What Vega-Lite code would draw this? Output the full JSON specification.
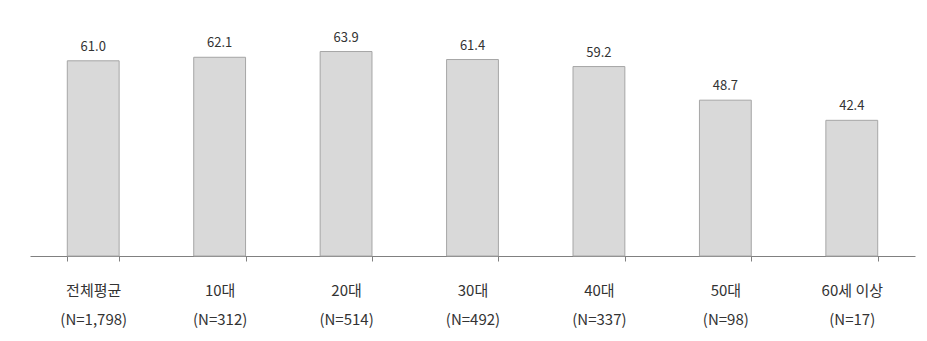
{
  "$schema": "https://vega.github.io/schema/vega-lite/v6.json",
  "width": 885,
  "height": 224,
  "autosize": {"type": "none"},
  "padding": {"left": 30, "top": 32, "right": 12, "bottom": 85},
  "background": "white",
  "config": {"view": {"stroke": null}, "font": "Noto Sans CJK KR"},
  "data": {
    "values": [
      {"group": "전체평균\n(N=1,798)", "value": 61.0},
      {"group": "10대\n(N=312)", "value": 62.1},
      {"group": "20대\n(N=514)", "value": 63.9},
      {"group": "30대\n(N=492)", "value": 61.4},
      {"group": "40대\n(N=337)", "value": 59.2},
      {"group": "50대\n(N=98)", "value": 48.7},
      {"group": "60세 이상\n(N=17)", "value": 42.4}
    ]
  },
  "encoding": {
    "x": {
      "field": "group",
      "type": "nominal",
      "sort": null,
      "scale": {"paddingInner": 0.59, "paddingOuter": 0.295},
      "axis": {
        "title": null,
        "labelAngle": 0,
        "labelExpr": "split(datum.label, '\\n')",
        "labelLineHeight": 29,
        "labelFontSize": 15,
        "labelColor": "#333333",
        "labelPadding": 22,
        "domainColor": "#808080",
        "tickColor": "#808080",
        "tickBand": "extent",
        "tickSize": 5
      }
    },
    "y": {
      "field": "value",
      "type": "quantitative",
      "scale": {"domain": [0, 70]},
      "axis": null
    }
  },
  "layer": [
    {
      "mark": {"type": "bar", "fill": "#d9d9d9", "stroke": "#a6a6a6", "strokeWidth": 1}
    },
    {
      "mark": {"type": "text", "dy": -14, "fontSize": 13, "color": "#333333"},
      "encoding": {"text": {"field": "value", "type": "quantitative", "format": ".1f"}}
    }
  ]
}
